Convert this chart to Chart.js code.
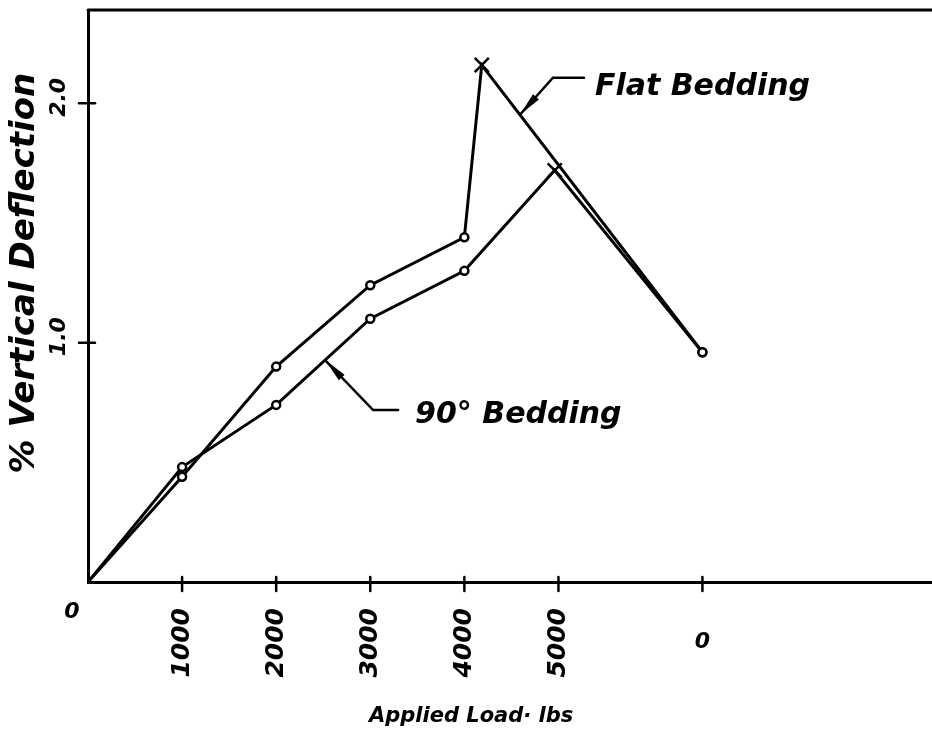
<!DOCTYPE html>
<html>
<head>
<meta charset="utf-8">
<script src="https://cdn.jsdelivr.net/npm/chart.js@4.4.1/dist/chart.umd.min.js"></script>
<style>
  html, body { margin: 0; padding: 0; background: #fff; overflow: hidden; }
  canvas { display: block; }
</style>
</head>
<body>
<canvas id="chart" width="932" height="742"></canvas>
<script>
// applied load (lbs) and % vertical deflection
// the last point is the reading after unloading (shown as "0" on the axis)
var loadFlat = [0, 1000, 2000, 3000, 4000, 4185, 6530];
var deflFlat = [0, 0.44, 0.90, 1.24, 1.44, 2.16, 0.96];
var loadNinety = [0, 1000, 2000, 3000, 4000, 4960, 6530];
var deflNinety = [0, 0.48, 0.74, 1.10, 1.30, 1.72, 0.96];

// marker per point: circle for readings, X for the failure point
var markFlat = [false, 'circle', 'circle', 'circle', 'circle', 'crossRot', 'circle'];
var markNinety = [false, 'circle', 'circle', 'circle', 'circle', 'crossRot', 'circle'];

// axis ticks
var xTicks = [0, 1000, 2000, 3000, 4000, 5000, 6530];
var xTickLabels = ['0', '1000', '2000', '3000', '4000', '5000', '0'];
var yTicks = [1.0, 2.0];
var yTickLabels = ['1.0', '2.0'];

var hand = "'DejaVu Sans', sans-serif";

function toXY(xs, ys) {
  return xs.map(function (x, i) { return { x: x, y: ys[i] }; });
}
function radii(marks) {
  return marks.map(function (m) { return m === 'crossRot' ? 10 : (m ? 4 : 0); });
}

// point somewhere along a segment of a drawn line (for the leader arrows)
function along(chart, ds, i, t) {
  var pts = chart.getDatasetMeta(ds).data;
  return { x: pts[i].x + (pts[i + 1].x - pts[i].x) * t, y: pts[i].y + (pts[i + 1].y - pts[i].y) * t };
}

function leader(c, tip, dx, dy, run) {
  var ex = tip.x + dx, ey = tip.y + dy;
  c.beginPath();
  c.moveTo(tip.x, tip.y);
  c.lineTo(ex, ey);
  c.lineTo(ex + run, ey);
  c.lineWidth = 2.5;
  c.stroke();
  // slim arrow head
  var a = Math.atan2(dy, dx), L = 24, w = 4;
  c.beginPath();
  c.moveTo(tip.x, tip.y);
  c.lineTo(tip.x + L * Math.cos(a) - w * Math.sin(a), tip.y + L * Math.sin(a) + w * Math.cos(a));
  c.lineTo(tip.x + L * Math.cos(a) + w * Math.sin(a), tip.y + L * Math.sin(a) - w * Math.cos(a));
  c.closePath();
  c.fill();
  return { x: ex + run, y: ey };
}

var paper = {
  id: 'paper',
  afterDraw: function (chart) {
    var c = chart.ctx, a = chart.chartArea;
    var xs = chart.scales.x, ys = chart.scales.y;
    c.save();
    c.strokeStyle = '#000';
    c.fillStyle = '#000';
    c.lineCap = 'round';

    // top frame line
    c.lineWidth = 3;
    c.beginPath();
    c.moveTo(a.left, a.top);
    c.lineTo(chart.width, a.top);
    c.stroke();

    // tick marks crossing the axes
    c.lineWidth = 2.5;
    xTicks.forEach(function (v) {
      if (v === 0) return;
      var px = xs.getPixelForValue(v);
      c.beginPath();
      c.moveTo(px, a.bottom - 5);
      c.lineTo(px, a.bottom + 9);
      c.stroke();
    });
    yTicks.forEach(function (v) {
      var py = ys.getPixelForValue(v);
      c.beginPath();
      c.moveTo(a.left - 9, py);
      c.lineTo(a.left + 7, py);
      c.stroke();
    });

    // x tick labels, written sideways except the zeros
    xTicks.forEach(function (v, i) {
      var px = xs.getPixelForValue(v);
      var txt = xTickLabels[i];
      c.save();
      if (txt === '0') {
        c.font = 'bold italic 22px ' + hand;
        c.textAlign = 'center';
        c.textBaseline = 'middle';
        if (i === 0) c.fillText(txt, px - 16, a.bottom + 30);
        else c.fillText(txt, px, a.bottom + 60);
      } else {
        c.font = 'bold italic 25px ' + hand;
        c.translate(px, a.bottom + 26);
        c.rotate(-Math.PI / 2);
        c.textAlign = 'right';
        c.textBaseline = 'middle';
        c.fillText(txt, 0, 0);
      }
      c.restore();
    });

    // y tick labels, sideways
    yTicks.forEach(function (v, i) {
      var py = ys.getPixelForValue(v);
      c.save();
      c.font = 'bold italic 22px ' + hand;
      c.translate(a.left - 29, py - 6);
      c.rotate(-Math.PI / 2);
      c.textAlign = 'center';
      c.textBaseline = 'middle';
      c.fillText(yTickLabels[i], 0, 0);
      c.restore();
    });

    // axis titles
    c.save();
    c.font = 'bold italic 34px ' + hand;
    c.translate(a.left - 63, a.top + (a.bottom - a.top) * 0.46);
    c.rotate(-Math.PI / 2);
    c.textAlign = 'center';
    c.textBaseline = 'middle';
    c.fillText('% Vertical Deflection', 0, 0);
    c.restore();

    c.font = 'bold italic 21px ' + hand;
    c.textAlign = 'center';
    c.textBaseline = 'middle';
    c.fillText('Applied Load\u00b7 lbs', a.left + (a.right - a.left) * 0.454, a.bottom + 135);

    // curve labels with leaders
    c.textAlign = 'left';
    c.textBaseline = 'alphabetic';
    c.font = 'bold italic 30px ' + hand;
    var e1 = leader(c, along(chart, 0, 5, 0.173), 33, -37, 31);
    c.fillText('Flat Bedding', e1.x + 11, e1.y + 17);
    var e2 = leader(c, along(chart, 1, 2, 0.52), 48, 50, 25);
    c.fillText('90\u00b0 Bedding', e2.x + 17, e2.y + 13);

    c.restore();
  }
};

function line(label, xs, ys, marks) {
  return {
    label: label,
    data: toXY(xs, ys),
    showLine: true,
    borderColor: '#000',
    borderWidth: 3,
    tension: 0,
    pointStyle: marks,
    pointRadius: radii(marks),
    pointBackgroundColor: '#fff',
    pointBorderColor: '#000',
    pointBorderWidth: 2.5
  };
}

var chart = new Chart(document.getElementById('chart'), {
  type: 'scatter',
  data: {
    datasets: [
      line('Flat Bedding', loadFlat, deflFlat, markFlat),
      line('90\u00b0 Bedding', loadNinety, deflNinety, markNinety)
    ]
  },
  options: {
    responsive: false,
    animation: false,
    layout: { autoPadding: false, padding: { top: 10, right: 0, left: 0, bottom: 0 } },
    plugins: { legend: { display: false }, tooltip: { enabled: false } },
    scales: {
      x: {
        type: 'linear',
        min: 0,
        max: 8970,
        afterBuildTicks: function (s) { s.ticks = xTicks.map(function (v) { return { value: v }; }); },
        afterFit: function (s) { s.height = 160; },
        ticks: { display: false },
        grid: { display: false },
        border: { display: true, color: '#000', width: 3 }
      },
      y: {
        type: 'linear',
        min: 0,
        max: 2.39,
        afterBuildTicks: function (s) { s.ticks = yTicks.map(function (v) { return { value: v }; }); },
        afterFit: function (s) { s.width = 88; },
        ticks: { display: false },
        grid: { display: false },
        border: { display: true, color: '#000', width: 3 }
      }
    }
  },
  plugins: [paper]
});
</script>
</body>
</html>
